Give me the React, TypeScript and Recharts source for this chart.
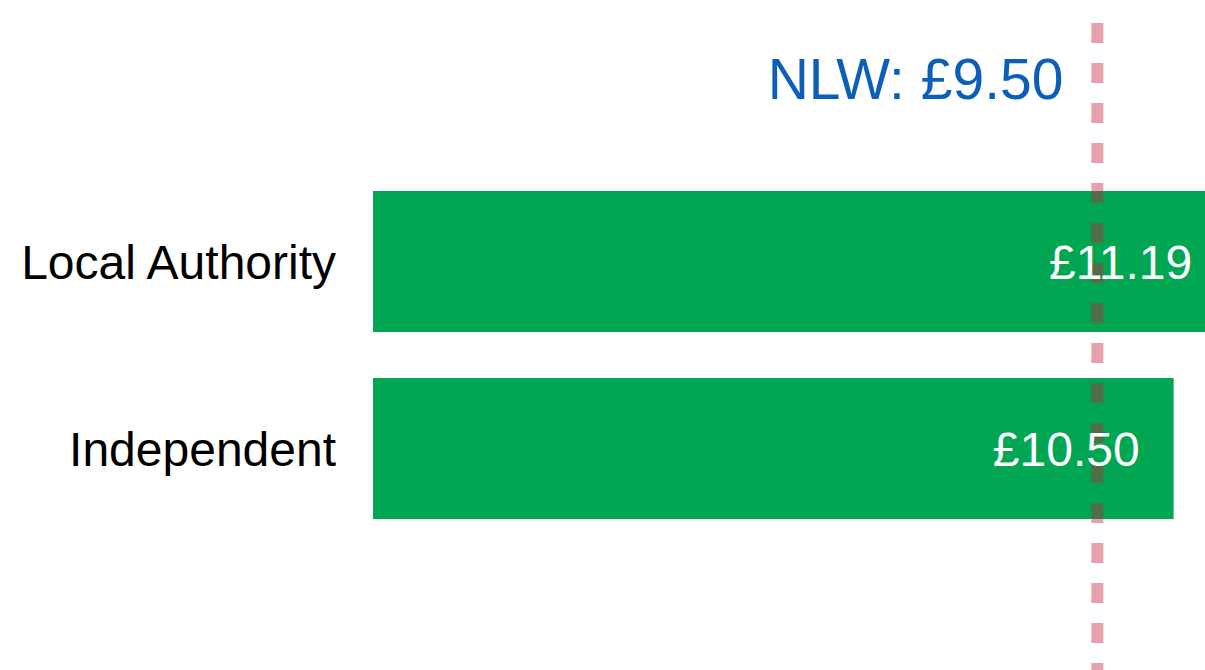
import React from "react";
import { BarChart, Bar, XAxis, YAxis, ReferenceLine, LabelList } from "recharts";

const categories = ["Local Authority", "Independent"];
const hourlyPay = [11.19, 10.5];
const valueLabels = ["£11.19", "£10.50"];
const nlwValue = 9.5;
const nlwLabel = "NLW: £9.50";

const data = categories.map((name, i) => ({
  name,
  value: hourlyPay[i],
  label: valueLabels[i],
}));

const FONT = "'Liberation Sans', Arial, sans-serif";

const NlwLine = (props: any) => {
  const x = props.x1;
  return (
    <g>
      <line
        x1={x}
        x2={x}
        y1={3}
        y2={670}
        stroke="#C0223C"
        strokeOpacity={0.42}
        strokeWidth={12}
        strokeDasharray="20 20"
        strokeDashoffset={20}
      />
      <text
        x={x - 34}
        y={99}
        textAnchor="end"
        fill="#0B5FB9"
        fontSize={57}
        fontFamily={FONT}
      >
        {nlwLabel}
      </text>
    </g>
  );
};

export default function App() {
  return (
    <div
      style={{
        position: "absolute",
        left: 0,
        top: 0,
        width: 1205,
        height: 670,
        overflow: "hidden",
        background: "#fff",
      }}
    >
      <BarChart
        width={1288}
        height={670}
        data={data}
        layout="vertical"
        margin={{ top: 168, right: 0, bottom: 128, left: 0 }}
        barSize={141}
      >
        <XAxis type="number" domain={[0, 12]} hide />
        <YAxis
          type="category"
          dataKey="name"
          width={373}
          axisLine={false}
          tickLine={false}
          tickSize={0}
          tickMargin={37}
          tick={{ fill: "#000", fontSize: 48, fontFamily: FONT }}
        />
        <Bar dataKey="value" fill="#00A651" isAnimationActive={false}>
          <LabelList
            dataKey="label"
            position="insideRight"
            offset={34}
            fill="#fff"
            fontSize={48}
            fontFamily={FONT}
          />
        </Bar>
        <ReferenceLine x={nlwValue} shape={NlwLine} />
      </BarChart>
    </div>
  );
}
